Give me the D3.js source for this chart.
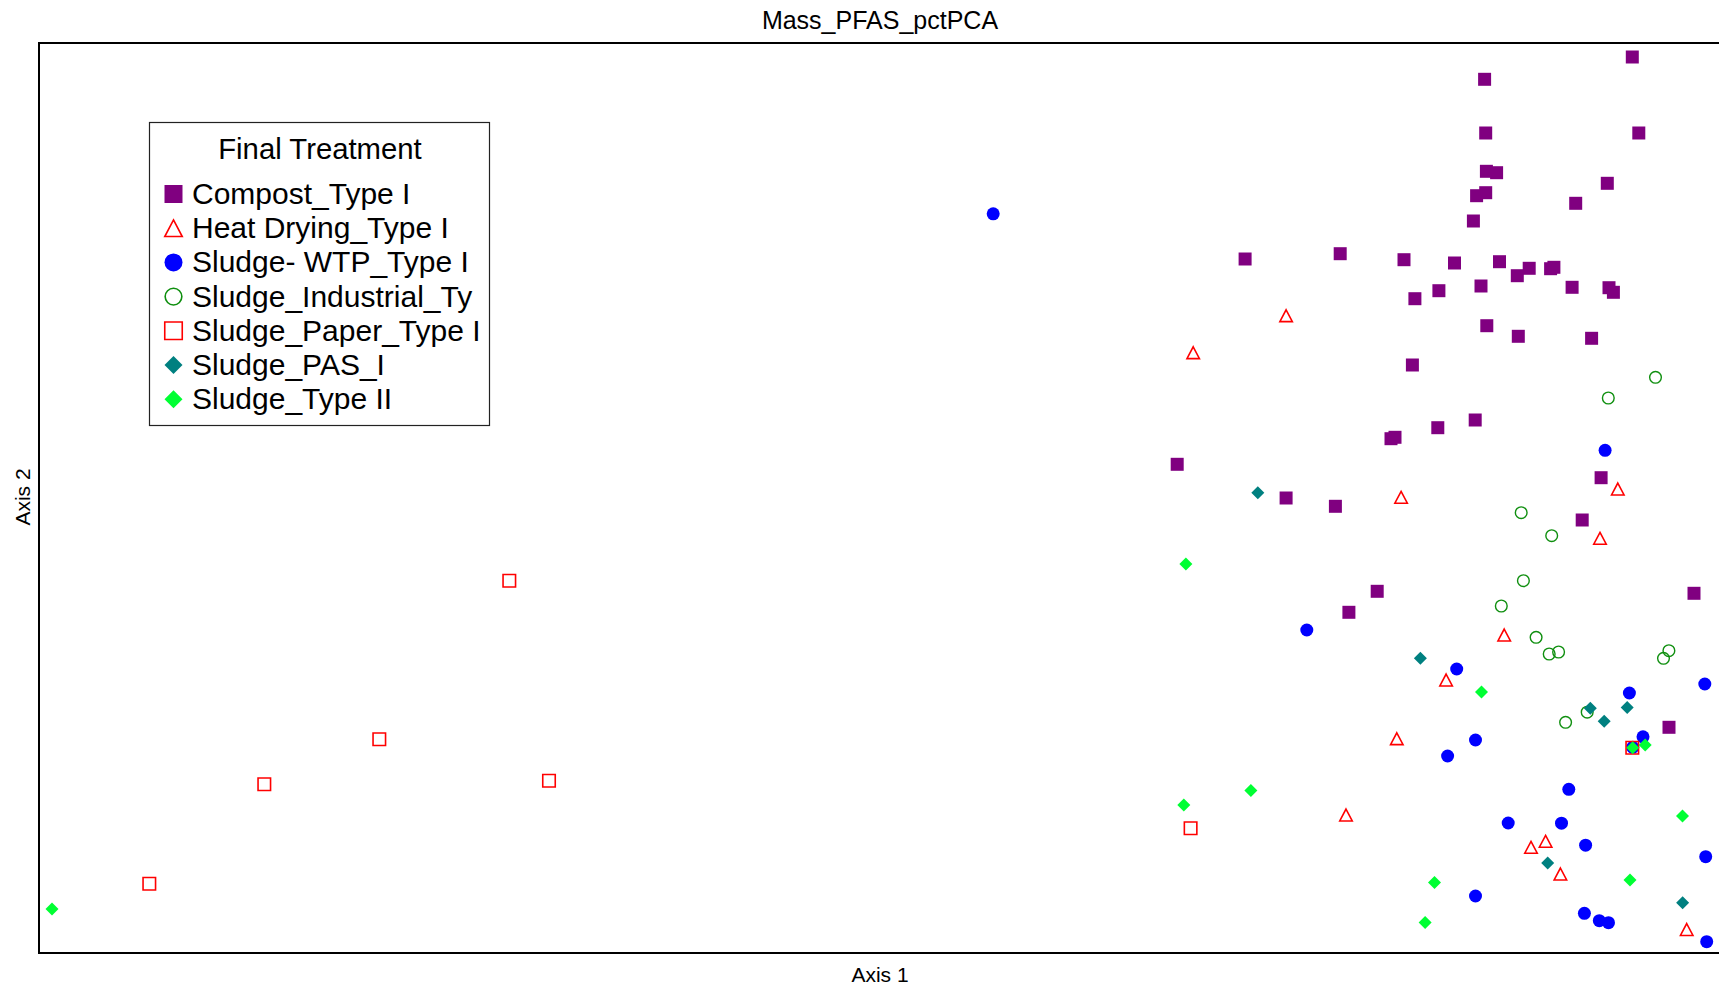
<!DOCTYPE html>
<html>
<head>
<meta charset="utf-8">
<script src="https://cdn.jsdelivr.net/npm/d3@7"></script>
<style>
  html, body { margin: 0; padding: 0; background: #fff; }
  svg { display: block; }
  text { font-family: "Liberation Sans", Arial, Helvetica, sans-serif; fill: #000; }
</style>
</head>
<body>
<svg id="chart" width="1719" height="987"></svg>
<script>
// Ordination scores (Axis 1, Axis 2) per final-treatment group
const chartTitle = "Mass_PFAS_pctPCA";
const axisLabels = ["Axis 1", "Axis 2"];
const legendTitle = "Final Treatment";
const groups = ["Compost_Type I", "Heat Drying_Type I", "Sludge- WTP_Type I", "Sludge_Industrial_Ty",
                "Sludge_Paper_Type I", "Sludge_PAS_I", "Sludge_Type II"];

const compostType1 = [
  [15.933, 8.960], [14.456, 8.737], [14.467, 8.200], [15.998, 8.200], [14.474, 7.817], [14.576, 7.803],
  [15.683, 7.697], [14.467, 7.603], [14.376, 7.573], [15.367, 7.497], [14.344, 7.320], [12.061, 6.940],
  [13.012, 6.993], [13.650, 6.933], [14.155, 6.900], [14.605, 6.913], [14.902, 6.847], [14.783, 6.773],
  [15.116, 6.843], [15.149, 6.857], [15.331, 6.657], [15.700, 6.653], [15.744, 6.607], [14.420, 6.670],
  [13.999, 6.623], [13.759, 6.543], [14.478, 6.273], [14.793, 6.167], [15.526, 6.147], [13.734, 5.880],
  [14.362, 5.330], [13.988, 5.253], [13.560, 5.157], [13.520, 5.143], [11.382, 4.887], [12.471, 4.550],
  [12.964, 4.467], [15.621, 4.753], [15.432, 4.330], [13.382, 3.617], [13.099, 3.407], [16.550, 3.597],
  [16.300, 2.257]
];
const heatDryingType1 = [
  [12.471, 6.373], [11.542, 6.003], [13.621, 4.557], [15.788, 4.640], [15.610, 4.147], [14.652, 3.180],
  [14.071, 2.730], [13.578, 2.143], [13.070, 1.380], [14.920, 1.057], [15.066, 1.117], [15.214, 0.790],
  [16.477, 0.235]
];
const sludgeWtpType1 = [
  [9.542, 7.392], [15.661, 5.027], [12.678, 3.230], [14.177, 2.840], [15.904, 2.600], [16.658, 2.690],
  [16.040, 2.162], [14.365, 2.130], [14.086, 1.970], [15.298, 1.637], [14.692, 1.300], [15.225, 1.298],
  [15.466, 1.078], [16.667, 0.963], [14.365, 0.570], [15.454, 0.397], [15.603, 0.323], [15.695, 0.303],
  [16.677, 0.113], [15.937, 2.057]
];
const sludgeIndustrial = [
  [16.165, 5.757], [15.693, 5.550], [14.822, 4.403], [15.127, 4.173], [14.844, 3.723], [14.623, 3.470],
  [14.971, 3.157], [15.102, 2.990], [15.196, 3.010], [16.299, 3.023], [16.245, 2.947], [15.482, 2.408],
  [15.266, 2.307]
];
const sludgePaperType1 = [
  [4.703, 3.723], [3.403, 2.137], [2.253, 1.687], [5.100, 1.723], [1.103, 0.693], [11.516, 1.247],
  [15.933, 2.053]
];
const sludgePas1 = [
  [12.188, 4.603], [13.814, 2.947], [15.513, 2.447], [15.882, 2.454], [15.652, 2.317], [15.087, 0.900],
  [16.436, 0.503]
];
const sludgeType2 = [
  [11.469, 3.890], [0.130, 0.440], [14.425, 2.610], [11.448, 1.480], [12.119, 1.625], [13.955, 0.704],
  [13.861, 0.305], [15.910, 0.730], [16.435, 1.370], [15.937, 2.053], [16.062, 2.080]
];

const seriesValues = [compostType1, heatDryingType1, sludgeWtpType1, sludgeIndustrial,
                      sludgePaperType1, sludgePas1, sludgeType2];

// marker style per group
const styles = [
  { shape: "square",   fill: "#800080", stroke: "none" },
  { shape: "triangle", fill: "none",    stroke: "#ff0000" },
  { shape: "circle",   fill: "#0000ff", stroke: "none" },
  { shape: "circle",   fill: "none",    stroke: "#0f8f0f" },
  { shape: "square",   fill: "none",    stroke: "#ff0000" },
  { shape: "diamond",  fill: "#008080", stroke: "none" },
  { shape: "diamond",  fill: "#00ff33", stroke: "none" }
];

// marker outline centred on (0,0); s = nominal width in px
function markerPath(shape, s) {
  const h = s / 2;
  if (shape === "square") return `M${-h},${-h}H${h}V${h}H${-h}Z`;
  if (shape === "diamond") return `M0,${-h}L${h},0L0,${h}L${-h},0Z`;
  if (shape === "triangle") {
    const th = s * 0.95 / 2;
    return `M0,${-th}L${h},${th}L${-h},${th}Z`;
  }
  return d3.path().toString();
}

function drawMarker(sel, st, s, filledSize, strokeW) {
  if (st.shape === "circle") {
    sel.append("circle")
      .attr("r", (st.fill === "none" ? s - 1.3 : s) / 2)
      .attr("fill", st.fill)
      .attr("stroke", st.stroke)
      .attr("stroke-width", st.stroke === "none" ? null : strokeW);
  } else {
    const size = st.fill === "none" ? s - 0.5 : filledSize;
    sel.append("path")
      .attr("d", markerPath(st.shape, size))
      .attr("fill", st.fill)
      .attr("stroke", st.stroke)
      .attr("stroke-width", st.stroke === "none" ? null : strokeW);
  }
}

const svg = d3.select("#chart");
const frame = { left: 39, top: 43, bottom: 953, right: 1730 };

const x = d3.scaleLinear().domain([0, 16.8]).range([39, 1719]);
const y = d3.scaleLinear().domain([0, 9.1]).range([953, 43]);

// title and axis labels
svg.append("text")
  .attr("x", 880).attr("y", 29)
  .attr("text-anchor", "middle")
  .style("font-size", "25px")
  .text(chartTitle);

svg.append("text")
  .attr("x", 880).attr("y", 982)
  .attr("text-anchor", "middle")
  .style("font-size", "21px")
  .text(axisLabels[0]);

svg.append("text")
  .attr("transform", "translate(29.5,497) rotate(-90)")
  .attr("text-anchor", "middle")
  .style("font-size", "21px")
  .text(axisLabels[1]);

// points, drawn in legend order
const plot = svg.append("g");
seriesValues.forEach((vals, i) => {
  const st = styles[i];
  plot.append("g")
    .selectAll("g")
    .data(vals)
    .join("g")
    .attr("transform", d => `translate(${x(d[0])},${y(d[1])})`)
    .each(function () {
      drawMarker(d3.select(this), st, 13, 13, st.shape === "circle" ? 1.4 : 1.6);
    });
});

// plot frame (open on the right side, beyond the window)
svg.append("rect")
  .attr("x", frame.left).attr("y", frame.top)
  .attr("width", frame.right - frame.left).attr("height", frame.bottom - frame.top)
  .attr("fill", "none")
  .attr("stroke", "#000")
  .attr("stroke-width", 2);

// legend
const legend = svg.append("g");
legend.append("rect")
  .attr("x", 149.5).attr("y", 122.5)
  .attr("width", 340).attr("height", 303)
  .attr("fill", "#fff")
  .attr("stroke", "#222")
  .attr("stroke-width", 1.2);

legend.append("text")
  .attr("x", 320).attr("y", 159)
  .attr("text-anchor", "middle")
  .style("font-size", "29.3px")
  .text(legendTitle);

groups.forEach((name, i) => {
  const base = 204 + i * 34.2;
  const row = legend.append("g");
  const mk = row.append("g").attr("transform", `translate(173.5,${base - 10})`);
  drawMarker(mk, styles[i], 18, 18, 1.6);
  row.append("text")
    .attr("x", 192).attr("y", base)
    .style("font-size", "30px")
    .text(name);
});
</script>
</body>
</html>
